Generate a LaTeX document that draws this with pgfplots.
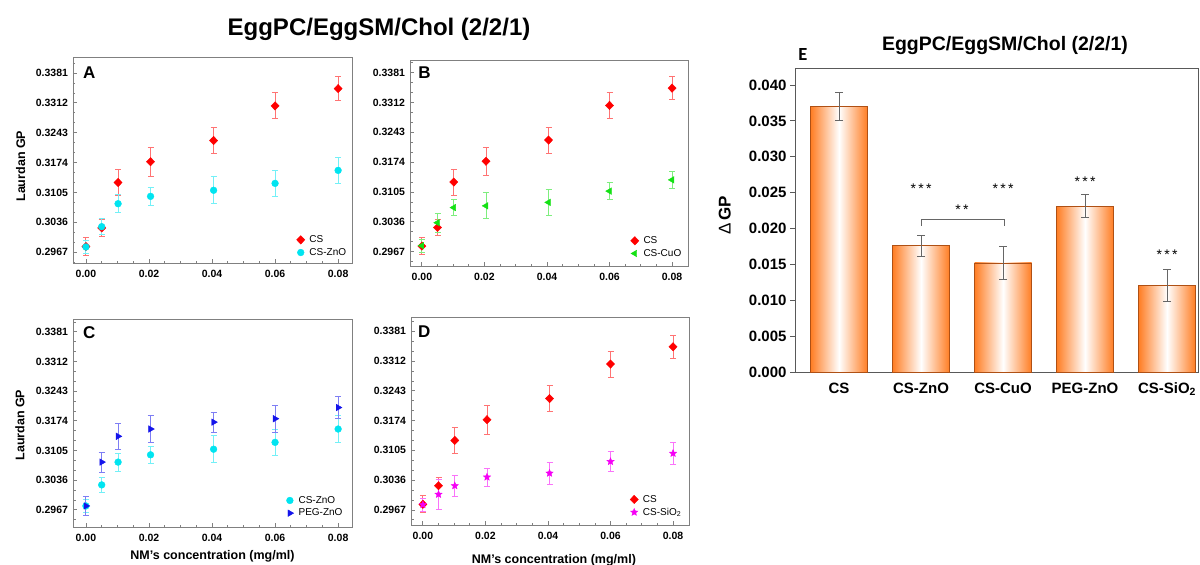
\documentclass[border=0pt]{standalone}
\usepackage{fontspec}
\setmainfont{Liberation Sans}
\newfontfamily\carlito{Carlito}
\usepackage{pgfplots}
\pgfplotsset{compat=1.18}
\usetikzlibrary{plotmarks}

\definecolor{csred}{RGB}{255,0,0}
\definecolor{cscyan}{RGB}{0,228,240}
\definecolor{csgreen}{RGB}{20,225,20}
\definecolor{csblue}{RGB}{20,20,235}
\definecolor{csmag}{RGB}{245,0,245}
\definecolor{barorange}{RGB}{255,125,35}
\definecolor{baredge}{RGB}{175,80,20}
\definecolor{framegray}{RGB}{128,128,128}

\pgfdeclareplotmark{fstar}{%
  \pgfpathmoveto{\pgfpointpolar{90}{\pgfplotmarksize}}%
  \pgfpathlineto{\pgfpointpolar{126}{0.45\pgfplotmarksize}}%
  \pgfpathlineto{\pgfpointpolar{162}{\pgfplotmarksize}}%
  \pgfpathlineto{\pgfpointpolar{198}{0.45\pgfplotmarksize}}%
  \pgfpathlineto{\pgfpointpolar{234}{\pgfplotmarksize}}%
  \pgfpathlineto{\pgfpointpolar{270}{0.45\pgfplotmarksize}}%
  \pgfpathlineto{\pgfpointpolar{306}{\pgfplotmarksize}}%
  \pgfpathlineto{\pgfpointpolar{342}{0.45\pgfplotmarksize}}%
  \pgfpathlineto{\pgfpointpolar{18}{\pgfplotmarksize}}%
  \pgfpathlineto{\pgfpointpolar{54}{0.45\pgfplotmarksize}}%
  \pgfpathclose
  \pgfusepathqfillstroke}

\tikzset{letter/.style={anchor=west, inner sep=0pt, font=\bfseries\fontsize{17}{20}\selectfont}}

\pgfplotsset{
  eb/.style={
    /pgfplots/error bars/y dir=both,
    /pgfplots/error bars/y explicit,
    /pgfplots/error bars/error bar style={draw=#1!55, line width=0.9pt},
    /pgfplots/error bars/error mark options={rotate=90, mark size=3pt, draw=#1!55, line width=0.9pt}},
  csS/.style={only marks, color=csred, mark=diamond*, mark size=4.2pt, mark options={xscale=1.3}, eb=csred},
  znS/.style={only marks, color=cscyan, mark=*, mark size=3.4pt, eb=cscyan},
  cuS/.style={only marks, color=csgreen, mark=triangle*, mark size=3.8pt, mark options={rotate=90}, eb=csgreen},
  pegS/.style={only marks, color=csblue, mark=triangle*, mark size=3.8pt, mark options={rotate=-90}, eb=csblue},
  siS/.style={only marks, color=csmag, mark=fstar, mark size=3.8pt, eb=csmag},
  gp/.style={
    scale only axis, anchor=north west,
    scaled ticks=false,
    axis line style={draw=framegray, line width=0.9pt},
    tick align=inside, tick pos=left,
    major tick style={draw=framegray, line width=0.8pt},
    minor tick style={draw=framegray, line width=0.7pt},
    major tick length=4pt, minor tick length=2.5pt,
    xtick={0,0.02,0.04,0.06,0.08},
    xticklabels={0.00,0.02,0.04,0.06,0.08},
    minor xtick={0.005,0.01,0.015,0.025,0.03,0.035,0.045,0.05,0.055,0.065,0.07,0.075},
    ytick={0.2967,0.3036,0.3105,0.3174,0.3243,0.3312,0.3381},
    yticklabels={0.2967,0.3036,0.3105,0.3174,0.3243,0.3312,0.3381},
    minor ytick={0.2944,0.2990,0.3013,0.3059,0.3082,0.3128,0.3151,0.3197,0.3220,0.3266,0.3289,0.3335,0.3358,0.3404},
    ticklabel style={font=\bfseries\fontsize{10.5}{12}\selectfont},
    yticklabel style={xshift=-1.5pt},
    xticklabel style={yshift=-4pt},
    /pgf/number format/assume math mode=true,
    label style={font=\bfseries\fontsize{12.5}{14}\selectfont},
    legend style={draw=none, fill=none, font=\fontsize{10}{12}\selectfont,
      anchor=south east, inner sep=0pt, row sep=1.2pt, nodes={inner sep=1.5pt}},
    legend cell align=left,
    legend image code/.code={\draw[mark repeat=2,mark phase=2] plot coordinates {(-4pt,0pt)(0pt,0pt)(4pt,0pt)}; \path (-4pt,0pt) (7pt,0pt);},
  },
}

\begin{document}
\begin{tikzpicture}
\useasboundingbox (0,0) rectangle (1200pt,-565pt);

\node[font=\bfseries\fontsize{24}{28}\selectfont] at (379pt,-29pt) {EggPC/EggSM/Chol (2/2/1)};

% ---------------- A ----------------
\begin{axis}[gp, at={(73pt,-57pt)}, width=279pt, height=206pt,
  xmin=-0.0041, xmax=0.0844, ymin=0.2942, ymax=0.3418,
  ylabel={Laurdan GP}, ylabel style={at={(axis description cs:-0.188,0.47)}, anchor=center},
  legend style={at={(0.985,0.022)}}]
\addplot[csS] coordinates {(0,0.2980) +- (0,0.0020) (0.005,0.3023) +- (0,0.0019) (0.0102,0.3128) +- (0,0.0030) (0.0205,0.3176) +- (0,0.0033) (0.0405,0.3225) +- (0,0.0030) (0.06,0.3305) +- (0,0.0030) (0.08,0.3345) +- (0,0.0027)};
\addplot[znS] coordinates {(0,0.2979) +- (0,0.0015) (0.005,0.3026) +- (0,0.0018) (0.0102,0.3079) +- (0,0.0021) (0.0205,0.3096) +- (0,0.0020) (0.0405,0.3110) +- (0,0.0031) (0.06,0.3126) +- (0,0.0031) (0.08,0.3156) +- (0,0.0031)};
\legend{CS,CS-ZnO}
\node[letter] at (rel axis cs:0.036,0.922) {A};
\end{axis}

% ---------------- B ----------------
\begin{axis}[gp, at={(410pt,-60pt)}, width=278pt, height=206pt,
  xmin=-0.0038, xmax=0.0851, ymin=0.2934, ymax=0.3410,
  legend style={at={(0.982,0.032)}}]
\addplot[csS] coordinates {(0,0.2980) +- (0,0.0020) (0.005,0.3023) +- (0,0.0019) (0.0102,0.3128) +- (0,0.0030) (0.0205,0.3176) +- (0,0.0033) (0.0405,0.3225) +- (0,0.0030) (0.06,0.3305) +- (0,0.0030) (0.08,0.3345) +- (0,0.0027)};
\addplot[cuS] coordinates {(0,0.2981) +- (0,0.0015) (0.005,0.3034) +- (0,0.0022) (0.0102,0.3069) +- (0,0.0019) (0.0205,0.3073) +- (0,0.0030) (0.0405,0.3081) +- (0,0.0030) (0.06,0.3107) +- (0,0.0020) (0.08,0.3133) +- (0,0.0020)};
\legend{CS,CS-CuO}
\node[letter] at (rel axis cs:0.029,0.937) {B};
\end{axis}

% ---------------- C ----------------
\begin{axis}[gp, at={(73pt,-319pt)}, width=279pt, height=208pt,
  xmin=-0.0041, xmax=0.0844, ymin=0.2927, ymax=0.3411,
  ylabel={Laurdan GP}, ylabel style={at={(axis description cs:-0.19,0.49)}, anchor=center},
  xlabel={NM's concentration (mg/ml)}, xlabel style={at={(axis description cs:0.50,-0.14)}, anchor=center},
  legend style={at={(0.972,0.038)}}]
\addplot[znS] coordinates {(0,0.2976) +- (0,0.0015) (0.005,0.3025) +- (0,0.0018) (0.0102,0.3078) +- (0,0.0021) (0.0205,0.3095) +- (0,0.0020) (0.0405,0.3108) +- (0,0.0031) (0.06,0.3124) +- (0,0.0031) (0.08,0.3155) +- (0,0.0031)};
\addplot[pegS] coordinates {(0,0.2976) +- (0,0.0021) (0.005,0.3078) +- (0,0.0023) (0.0102,0.3138) +- (0,0.0031) (0.0205,0.3155) +- (0,0.0031) (0.0405,0.3171) +- (0,0.0023) (0.06,0.3179) +- (0,0.0031) (0.08,0.3205) +- (0,0.0025)};
\legend{CS-ZnO,PEG-ZnO}
\node[letter] at (rel axis cs:0.036,0.933) {C};
\end{axis}

% ---------------- D ----------------
\begin{axis}[gp, at={(411pt,-317pt)}, width=278pt, height=208pt,
  xmin=-0.0038, xmax=0.0851, ymin=0.2932, ymax=0.3414,
  xlabel={NM's concentration (mg/ml)}, xlabel style={at={(axis description cs:0.514,-0.168)}, anchor=center},
  legend style={at={(0.978,0.032)}}]
\addplot[csS] coordinates {(0,0.2980) +- (0,0.0020) (0.005,0.3023) +- (0,0.0019) (0.0102,0.3128) +- (0,0.0030) (0.0205,0.3176) +- (0,0.0033) (0.0405,0.3225) +- (0,0.0030) (0.06,0.3305) +- (0,0.0030) (0.08,0.3345) +- (0,0.0027)};
\addplot[siS] coordinates {(0,0.2979) +- (0,0.0015) (0.005,0.3003) +- (0,0.0034) (0.0102,0.3023) +- (0,0.0024) (0.0205,0.3043) +- (0,0.0021) (0.0405,0.3052) +- (0,0.0025) (0.06,0.3079) +- (0,0.0024) (0.08,0.3098) +- (0,0.0026)};
\legend{CS,CS-SiO\textsubscript{2}}
\node[letter] at (rel axis cs:0.025,0.928) {D};
\end{axis}

% ---------------- E ----------------
\node[font=\bfseries\fontsize{19.5}{22}\selectfont] at (1005pt,-45pt) {EggPC/EggSM/Chol (2/2/1)};
\node[font=\carlito\bfseries\fontsize{18.5}{20}\selectfont] at (803pt,-55pt) {E};
\begin{axis}[at={(795pt,-68pt)}, anchor=north west, scale only axis, width=403pt, height=304pt,
  xmin=-0.537, xmax=4.378, ymin=0, ymax=0.04237,
  scaled ticks=false,
  axis line style={draw=black!65, line width=1pt},
  tick align=outside, tick pos=left,
  ytick={0,0.005,0.010,0.015,0.020,0.025,0.030,0.035,0.040},
  yticklabels={0.000,0.005,0.010,0.015,0.020,0.025,0.030,0.035,0.040},
  xtick={0,1,2,3,4},
  xticklabels={CS,CS-ZnO,CS-CuO,PEG-ZnO,CS-SiO\textsubscript{2}},
  xtick style={draw=none},
  ytick style={draw=black!65, line width=0.9pt},
  major tick length=5pt,
  ticklabel style={font=\bfseries\fontsize{15}{17}\selectfont},
  xticklabel style={yshift=-2pt},
  /pgf/number format/assume math mode=true,
  ylabel={{\mdseries Δ}\,GP},
  ylabel style={at={(axis description cs:-0.174,0.516)}, anchor=center, font=\bfseries\fontsize{17}{19}\selectfont}]
\addplot[ybar, bar width=57pt, draw=baredge, line width=0.8pt, left color=barorange, right color=barorange, middle color=white] coordinates {(0,0.0370)};
\addplot[ybar, bar width=57pt, draw=baredge, line width=0.8pt, left color=barorange, right color=barorange, middle color=white] coordinates {(1,0.0176)};
\addplot[ybar, bar width=57pt, draw=baredge, line width=0.8pt, left color=barorange, right color=barorange, middle color=white] coordinates {(2,0.0152)};
\addplot[ybar, bar width=57pt, draw=baredge, line width=0.8pt, left color=barorange, right color=barorange, middle color=white] coordinates {(3,0.0231)};
\addplot[ybar, bar width=57pt, draw=baredge, line width=0.8pt, left color=barorange, right color=barorange, middle color=white] coordinates {(4,0.0121)};
\addplot[draw=none, no markers, forget plot,
  error bars/.cd, y dir=both, y explicit,
  error bar style={draw=black!60, line width=0.9pt},
  error mark options={rotate=90, mark size=4pt, draw=black!60, line width=0.9pt}]
  coordinates {(0,0.0370) +- (0,0.0019) (1,0.0176) +- (0,0.0015) (2,0.0152) +- (0,0.0023) (3,0.0231) +- (0,0.0016) (4,0.0121) +- (0,0.0022)};
\draw[black!60, line width=0.8pt] (axis cs:1,0.02035) -- (axis cs:1,0.02132) -- (axis cs:2.02,0.02132) -- (axis cs:2.02,0.02035);
\node[font=\fontsize{14}{16}\selectfont] at (axis cs:1,0.0255) {*\,*\,*};
\node[font=\fontsize{14}{16}\selectfont] at (axis cs:2,0.0255) {*\,*\,*};
\node[font=\fontsize{14}{16}\selectfont] at (axis cs:3,0.0265) {*\,*\,*};
\node[font=\fontsize{14}{16}\selectfont] at (axis cs:4,0.0163) {*\,*\,*};
\node[font=\fontsize{14}{16}\selectfont] at (axis cs:1.5,0.0226) {*\,*};
\end{axis}
\end{tikzpicture}
\end{document}
